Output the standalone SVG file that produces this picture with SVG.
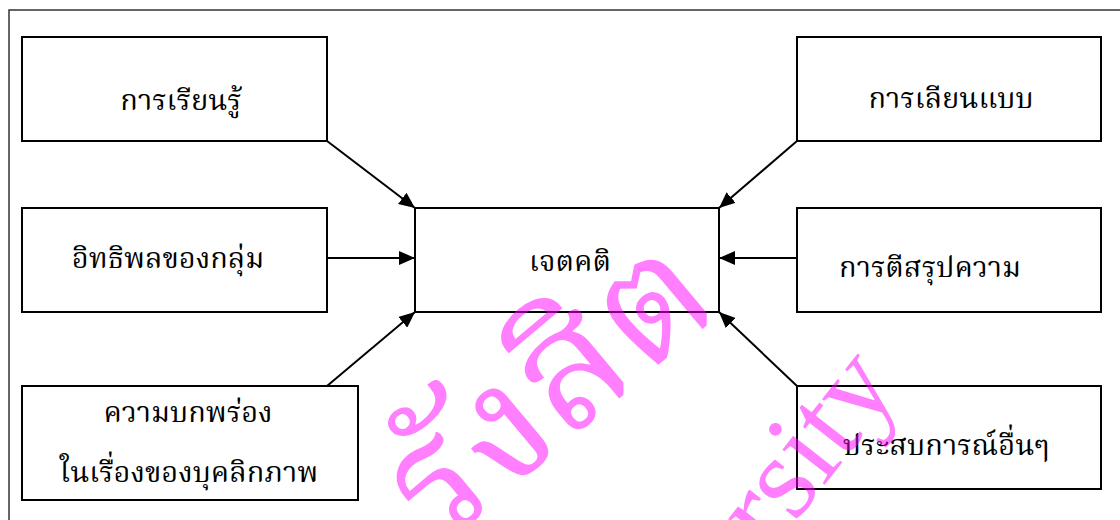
<svg xmlns="http://www.w3.org/2000/svg" width="1120" height="520" viewBox="0 0 1120 520">
  <style>
    .box { fill: #ffffff; stroke: #000000; stroke-width: 2; }
    .lbl { font-family: "Liberation Serif", "Noto Serif Thai", "Noto Sans Thai", serif; font-size: 29px; fill: #000000; text-anchor: middle; }
    .conn { stroke: #000000; stroke-width: 2; fill: none; marker-end: url(#arr); }
    .wm { font-family: "Liberation Serif", "Noto Serif Thai", serif; fill: #ff00ff; fill-opacity: 0.5; }
  </style>
  <defs>
    <marker id="arr" markerUnits="userSpaceOnUse" markerWidth="16" markerHeight="14" refX="16" refY="7" orient="auto">
      <path d="M0,0 L16,7 L0,14 Z" fill="#000000"/>
    </marker>
  </defs>
  <rect x="0" y="0" width="1120" height="520" fill="#ffffff"/>
  <path d="M9,521 L9,10 L1121,10" fill="none" stroke="#333333" stroke-width="1.5"/>

  <g id="n-learning">
    <rect class="box" x="22" y="37" width="305" height="104"/>
    <text class="lbl" x="181" y="110">การเรียนรู้</text>
  </g>
  <g id="n-group">
    <rect class="box" x="22" y="208" width="305" height="104"/>
    <text class="lbl" x="168" y="268">อิทธิพลของกลุ่ม</text>
  </g>
  <g id="n-personality">
    <rect class="box" x="22" y="386" width="336" height="114"/>
    <text class="lbl" x="188" y="422">ความบกพร่อง</text>
    <text class="lbl" x="189" y="482">ในเรื่องของบุคลิกภาพ</text>
  </g>
  <g id="n-attitude">
    <rect class="box" x="415" y="208" width="304" height="104"/>
    <text class="lbl" x="570" y="271">เจตคติ</text>
  </g>
  <g id="n-imitation">
    <rect class="box" x="797" y="37" width="304" height="104"/>
    <text class="lbl" x="951" y="108">การเลียนแบบ</text>
  </g>
  <g id="n-interpret">
    <rect class="box" x="797" y="208" width="304" height="104"/>
    <text class="lbl" x="930" y="277">การตีสรุปความ</text>
  </g>
  <g id="n-experience">
    <rect class="box" x="797" y="386" width="304" height="103"/>
    <text class="lbl" x="946" y="455">ประสบการณ์อื่นๆ</text>
  </g>

  <g id="connectors">
    <line class="conn" x1="327" y1="141" x2="415" y2="208"/>
    <line class="conn" x1="327" y1="258" x2="415" y2="258"/>
    <line class="conn" x1="327" y1="386" x2="415" y2="312"/>
    <line class="conn" x1="797" y1="141" x2="719" y2="208"/>
    <line class="conn" x1="797" y1="258" x2="719" y2="258"/>
    <line class="conn" x1="797" y1="386" x2="719" y2="312"/>
  </g>

  <g id="watermark">
    <text class="wm" font-size="165" transform="translate(440,548) rotate(-40)">รังสิต</text>
    <text class="wm" font-size="120" transform="translate(770,555) rotate(-52)">rsity</text>
  </g>
</svg>
